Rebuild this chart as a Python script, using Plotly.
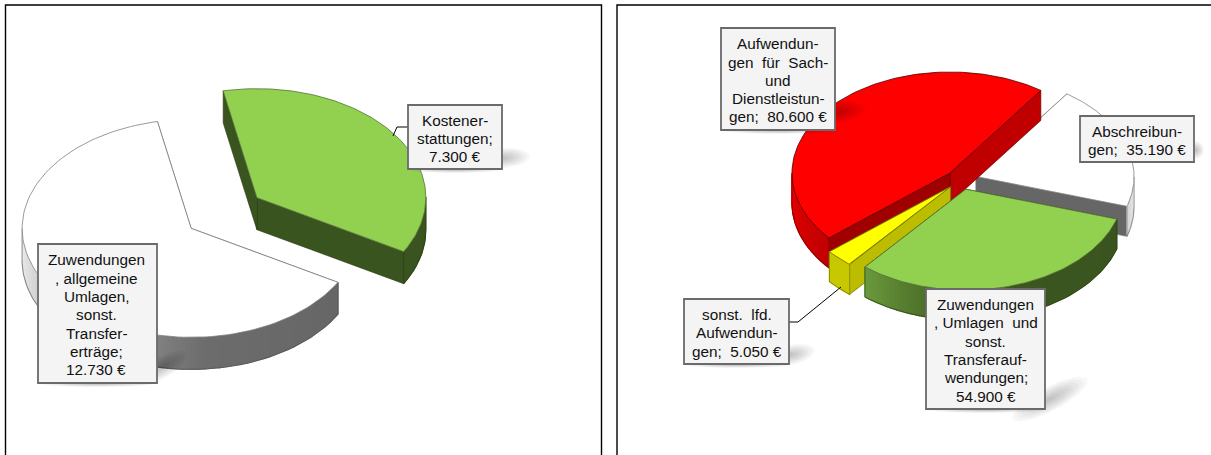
import math
import plotly.graph_objects as go

# ---------- data ----------
left_labels = ["Kostenerstattungen", "Zuwendungen, allgemeine Umlagen, sonst. Transfererträge"]
left_values = [7300, 12730]
right_labels = ["Aufwendungen für Sach- und Dienstleistungen", "Abschreibungen",
                "Zuwendungen, Umlagen und sonst. Transferaufwendungen", "sonst. lfd. Aufwendungen"]
right_values = [80600, 35190, 54900, 5050]

# ---------- styles ----------
LEFT = dict(cx=224, cy=213, a=169, b=109, depth=32, explode=0.24, start=-11.5)
RIGHT = dict(cx=961.4, cy=179.7, a=158, b=101, depth=30, explode=0.098, start=230)

left_styles = [
    dict(top="#92d050", line="#56703a", f0="#3a5420", f1="#3a5420",
         stops=[(90, "#3a5420"), (270, "#3a5420")], edge="#26380f"),
    dict(top="#ffffff", line="#808080", f0="#666666", f1="#666666",
         stops=[(120, "#666666"), (175, "#6c6c6c"), (192, "#808080"), (225, "#b8b8b8"), (245, "#d2d2d2"), (270, "#eeeeee")],
         edge="#555555"),
]
right_styles = [
    dict(top="#ff0000", line="#500000", f0="#a00000", f1="#c00000",
         stops=[(230, "#c00000"), (270, "#e80000")], edge="#600000"),
    dict(top="#ffffff", line="#808080", f0="#ffffff", f1="#666666", near_first=True,
         stops=[(90, "#f4f4f4"), (107, "#d4d4d4")], edge="#666666"),
    dict(top="#92d050", line="#56703a", f0="#3a5420", f1="#3a5420",
         stops=[(107, "#3a5420"), (165, "#3c5622"), (195, "#4e7029"), (220, "#6b9a3e")], edge="#2c4015"),
    dict(top="#ffff00", line="#6a6a00", f0="#bcbc00", f1="#bcbc00",
         stops=[(220, "#c8c800"), (230, "#c8c800")], edge="#6a6a00"),
]
right_order = [1, 0, 3, 2]
left_order = [1, 0]

boxes = [
    dict(x0=408, x1=502, y0=105, lines=["Kostener-", "stattungen;", "7.300\u00a0€"]),
    dict(x0=38, x1=157, y0=244, lines=["Zuwendungen", ", allgemeine", "Umlagen,", "sonst.", "Transfer-", "erträge;", "12.730\u00a0€"]),
    dict(x0=721, x1=835, y0=28, lines=["Aufwendun-", "gen\u00a0\u00a0für\u00a0\u00a0Sach-", "und", "Dienstleistun-", "gen;\u00a0\u00a080.600\u00a0€"]),
    dict(x0=1080, x1=1194, y0=116, lines=["Abschreibun-", "gen;\u00a0\u00a035.190\u00a0€"]),
    dict(x0=684, x1=789, y0=299, lines=["sonst.\u00a0\u00a0lfd.", "Aufwendun-", "gen;\u00a0\u00a05.050\u00a0€"]),
    dict(x0=926, x1=1045, y0=289, lines=["Zuwendungen", ",\u00a0Umlagen\u00a0\u00a0und", "sonst.", "Transferauf-", "wendungen;", "54.900\u00a0€"]),
]
box_bottoms = [169, 383, 130, 162, 364, 409]
text_shift = [0, -1.5, 0, 0, 0, 0]
leaders = [([408, 397, 393], [127, 127, 136]), ([789, 798, 841], [322, 322, 287])]
soft_shadows = [  # cx, cy, rx, ry, tilt
    (503, 158, 27, 10, -4), (160, 368, 30, 11, -28), (838, 112, 28, 11, -8),
    (790, 355, 25, 10, -12), (1050, 399, 42, 12, -28), (1196, 150, 8, 9, 0),
    (455, 170, 46, 3, 0), (97, 384, 58, 3, 0), (778, 131, 56, 3, 0), (736, 365, 52, 3, 0), (985, 410, 58, 3, 0),
]

fig = go.Figure()


def hex2rgb(h):
    return [int(h[i:i + 2], 16) for i in (1, 3, 5)]


def colour_at(stops, t):
    if t <= stops[0][0]:
        return stops[0][1]
    for (t0, c0), (t1, c1) in zip(stops, stops[1:]):
        if t <= t1:
            f = (t - t0) / (t1 - t0)
            a, b = hex2rgb(c0), hex2rgb(c1)
            return "rgb(%d,%d,%d)" % tuple(round(p + (q - p) * f) for p, q in zip(a, b))
    return stops[-1][1]


def poly(xs, ys, fill=None, line=None, width=0.0, close=True):
    fig.add_trace(go.Scatter(
        x=xs, y=ys, mode="lines", fill="toself" if close and fill else "none",
        fillcolor=fill, line=dict(color=line or fill or "rgba(0,0,0,0)", width=width),
        hoverinfo="skip", showlegend=False))


def draw_pie(values, geo, styles, order):
    total = sum(values)
    a, b, d = geo["a"], geo["b"], geo["depth"]
    spans = []
    ang = geo["start"]
    for v in values:
        sweep = 360 * v / total
        spans.append((ang, ang + sweep))
        ang += sweep
    for i in order:
        t0, t1 = spans[i]
        st = styles[i]
        mid = math.radians((t0 + t1) / 2)
        cx = geo["cx"] + geo["explode"] * a * math.sin(mid)
        cy = geo["cy"] - geo["explode"] * b * math.cos(mid)
        px = lambda t: cx + a * math.sin(math.radians(t))
        py = lambda t: cy - b * math.cos(math.radians(t))
        # straight cut faces (hidden one first)
        faces = [(t1, st["f1"]), (t0, st["f0"])]
        if st.get("near_first"):
            faces.reverse()
        for t, col in faces:
            poly([cx, px(t), px(t), cx, cx], [cy, py(t), py(t) + d, cy + d, cy], col, st["edge"], 0.6)
        # outer wall, front part only, shaded by angle; bands share colours where possible
        n = 140
        steps = [t0 + (t1 - t0) * k / n for k in range(n + 1)]
        front = []
        bands = []
        for p, q in zip(steps, steps[1:]):
            norm = ((p + q) / 2) % 360
            if not 90 <= norm <= 270:
                continue
            col = colour_at(st["stops"], norm)
            if bands and bands[-1][2] == col:
                bands[-1][1] = q
            else:
                bands.append([p, q, col])
            front.extend([p, q])
        for p, q, col in bands:
            ts = [p + (q - p) * k / 12 for k in range(13)]
            poly([px(t) for t in ts] + [px(t) for t in reversed(ts)] + [px(p)],
                 [py(t) for t in ts] + [py(t) + d for t in reversed(ts)] + [py(p)], col, col, 1.2)
        if front:
            ts = sorted(set(front))
            poly([px(t) for t in ts], [py(t) + d for t in ts], None, st["edge"], 0.7, close=False)
            for t in (ts[0], ts[-1]):
                poly([px(t), px(t)], [py(t), py(t) + d], None, st["edge"], 0.6, close=False)
        # top face
        ts = [t0 + (t1 - t0) * k / 120 for k in range(121)]
        poly([cx] + [px(t) for t in ts] + [cx], [cy] + [py(t) for t in ts] + [cy],
             st["top"], st["line"], 0.8)


draw_pie(left_values, LEFT, left_styles, left_order)
draw_pie(right_values, RIGHT, right_styles, right_order)

# soft shadows
for cx, cy, rx, ry, tilt in soft_shadows:
    r = math.radians(tilt)
    for k in range(8):
        s = 1 - k / 8
        xs, ys = [], []
        for j in range(37):
            u = math.radians(j * 10)
            ex, ey = rx * s * math.cos(u), ry * s * math.sin(u)
            xs.append(cx + ex * math.cos(r) - ey * math.sin(r))
            ys.append(cy + ex * math.sin(r) + ey * math.cos(r))
        poly(xs, ys, "rgba(0,0,0,0.032)", None, 0)

# leader lines
for xs, ys in leaders:
    poly(xs, ys, None, "#000000", 1, close=False)

shapes = [
    dict(type="rect", x0=5.5, x1=601.5, y0=5, y1=470, line=dict(color="#000000", width=1.4), layer="above"),
    dict(type="rect", x0=617, x1=1225, y0=5, y1=470, line=dict(color="#000000", width=1.4), layer="above"),
]
annotations = []
LINE_H = 18.3
for box, y1, dx in zip(boxes, box_bottoms, text_shift):
    shapes.append(dict(type="rect", x0=box["x0"], x1=box["x1"], y0=box["y0"], y1=y1,
                       fillcolor="#f4f4f4", line=dict(color="#6a6a6a", width=1.8), layer="above"))
    n = len(box["lines"])
    ymid = (box["y0"] + y1) / 2 + 1.3
    for k, text in enumerate(box["lines"]):
        annotations.append(dict(x=(box["x0"] + box["x1"]) / 2 + dx, y=ymid + (k - (n - 1) / 2) * LINE_H,
                                text=text, showarrow=False, xanchor="center", yanchor="middle",
                                font=dict(family="Liberation Sans", size=15.3, color="#111111")))

fig.update_layout(
    width=1211, height=455, autosize=False, margin=dict(l=0, r=0, t=0, b=0),
    paper_bgcolor="#ffffff", plot_bgcolor="#ffffff", showlegend=False,
    xaxis=dict(range=[0, 1211], visible=False, fixedrange=True),
    yaxis=dict(range=[455, 0], visible=False, fixedrange=True),
    shapes=shapes, annotations=annotations,
)
fig.write_html("out.html", config={"displayModeBar": False},
               post_script="document.body.style.margin='0';document.documentElement.style.overflow='hidden';")
